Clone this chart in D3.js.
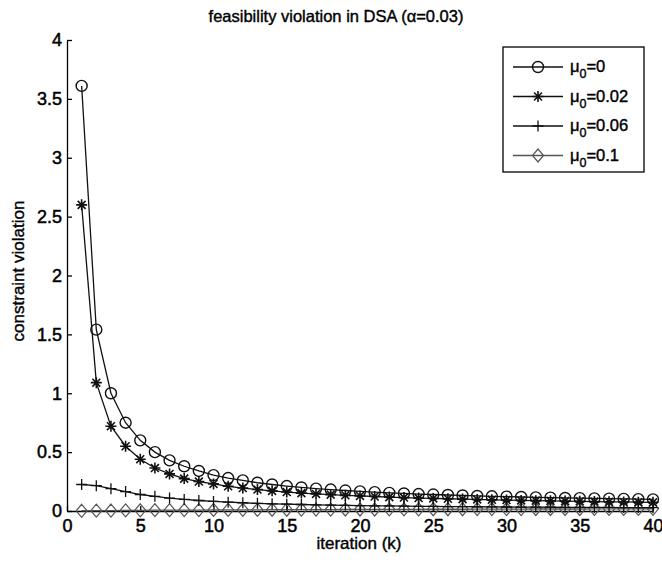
<!DOCTYPE html>
<html>
<head>
<meta charset="utf-8">
<script src="https://cdn.jsdelivr.net/npm/d3@7"></script>
<style>
  body { margin: 0; background: #fff; }
  svg { display: block; font-family: "Liberation Sans", Arial, sans-serif; }
</style>
</head>
<body>
<div id="chart"></div>
<script>
// iterations k = 1..40
const iterations = d3.range(1, 41);

const seriesMu0 = [3.61, 1.54, 1.0, 0.75, 0.6, 0.5, 0.43, 0.38, 0.34, 0.305,
    0.28, 0.26, 0.24, 0.225, 0.212, 0.2, 0.19, 0.182, 0.174, 0.167,
    0.16, 0.154, 0.149, 0.144, 0.14, 0.136, 0.132, 0.128, 0.125, 0.122,
    0.119, 0.116, 0.114, 0.111, 0.109, 0.107, 0.105, 0.103, 0.101, 0.099];
const seriesMu002 = [2.6, 1.09, 0.72, 0.55, 0.44, 0.365, 0.315, 0.275, 0.25, 0.23,
    0.21, 0.195, 0.182, 0.171, 0.161, 0.152, 0.145, 0.139, 0.133, 0.128,
    0.123, 0.118, 0.114, 0.11, 0.107, 0.104, 0.101, 0.098, 0.095, 0.093,
    0.09, 0.088, 0.086, 0.084, 0.082, 0.08, 0.078, 0.077, 0.075, 0.074];
const seriesMu006 = [0.225, 0.215, 0.19, 0.165, 0.14, 0.125, 0.11, 0.098, 0.089, 0.081,
    0.075, 0.07, 0.065, 0.061, 0.058, 0.055, 0.052, 0.05, 0.048, 0.046,
    0.044, 0.043, 0.041, 0.04, 0.039, 0.038, 0.037, 0.036, 0.035, 0.034,
    0.033, 0.033, 0.032, 0.031, 0.031, 0.03, 0.03, 0.029, 0.029, 0.028];
const seriesMu01 = [0.002, 0.003, 0.004, 0.005, 0.006, 0.007, 0.007, 0.008, 0.008, 0.009,
    0.009, 0.01, 0.01, 0.011, 0.011, 0.012, 0.012, 0.012, 0.013, 0.013,
    0.013, 0.014, 0.014, 0.014, 0.015, 0.015, 0.015, 0.016, 0.016, 0.016,
    0.016, 0.017, 0.017, 0.017, 0.017, 0.018, 0.018, 0.018, 0.018, 0.019];

const legendLabels = ["0", "0.02", "0.06", "0.1"];
const markerTypes = ["circle", "star", "plus", "diamond"];
const xTicks = d3.range(0, 41, 5);
const yTicks = d3.range(0, 4.01, 0.5);

const series = [seriesMu0, seriesMu002, seriesMu006, seriesMu01].map((vals, i) => ({
    label: legendLabels[i],
    marker: markerTypes[i],
    color: i === 3 ? "#555" : "#111",
    points: vals.map((v, j) => ({ k: iterations[j], v }))
}));

const W = 662, H = 564;
const margin = { top: 40, right: 9, bottom: 53, left: 67 };
const width = W - margin.left - margin.right;
const height = H - margin.top - margin.bottom;

const svg = d3.select("#chart").append("svg")
    .attr("width", W)
    .attr("height", H);

const g = svg.append("g")
    .attr("transform", `translate(${margin.left}, ${margin.top})`);

const x = d3.scaleLinear().domain([0, 40]).range([0, width]);
const y = d3.scaleLinear().domain([0, 4]).range([height, 0]);

// Axes (MATLAB style: ticks inside)
const yAxis = g.append("g")
    .call(d3.axisLeft(y).tickValues(yTicks).tickSizeInner(-5).tickSizeOuter(0)
        .tickPadding(5).tickFormat(d3.format("~g")));
const xAxis = g.append("g")
    .attr("transform", `translate(0, ${height})`)
    .call(d3.axisBottom(x).tickValues(xTicks).tickSizeInner(-5).tickSizeOuter(0)
        .tickPadding(8));

[xAxis, yAxis].forEach(ax => {
    ax.selectAll("path, line").attr("stroke", "#000").attr("stroke-width", 1.3);
    ax.selectAll("text")
        .attr("fill", "#000")
        .style("font-size", "18px")
        .style("stroke", "#000")
        .style("stroke-width", "0.5px");
});

// Labels
svg.append("text")
    .attr("x", 336)
    .attr("y", 22)
    .attr("text-anchor", "middle")
    .style("font-size", "16.5px")
    .style("stroke", "#000").style("stroke-width", "0.4px")
    .text("feasibility violation in DSA (α=0.03)");

svg.append("text")
    .attr("x", 359)
    .attr("y", 549)
    .attr("text-anchor", "middle")
    .style("font-size", "17px")
    .style("stroke", "#000").style("stroke-width", "0.4px")
    .text("iteration (k)");

svg.append("text")
    .attr("transform", "translate(24, 271) rotate(-90)")
    .attr("text-anchor", "middle")
    .style("font-size", "17px")
    .style("stroke", "#000").style("stroke-width", "0.4px")
    .text("constraint violation");

// Marker drawing
function drawMarker(sel, type, color) {
    const s = 5.5;
    if (type === "circle") {
        sel.append("circle").attr("r", s).attr("fill", "none")
            .attr("stroke", color).attr("stroke-width", 1.4);
    } else if (type === "diamond") {
        sel.append("path").attr("d", `M0,${-s - 1}L${s},0L0,${s + 1}L${-s},0Z`)
            .attr("fill", "none").attr("stroke", color).attr("stroke-width", 1.2);
    } else if (type === "plus") {
        sel.append("path").attr("d", `M${-s},0H${s}M0,${-s}V${s}`)
            .attr("stroke", color).attr("stroke-width", 1.3);
    } else if (type === "star") {
        const d = s * 0.72;
        sel.append("path")
            .attr("d", `M${-s},0H${s}M0,${-s}V${s}M${-d},${-d}L${d},${d}M${-d},${d}L${d},${-d}`)
            .attr("stroke", color).attr("stroke-width", 1.6);
    }
}

const line = d3.line().x(d => x(d.k)).y(d => y(d.v));

// draw from last to first so the circle series sits on top
series.slice().reverse().forEach(s => {
    const sg = g.append("g");
    sg.append("path")
        .datum(s.points)
        .attr("fill", "none")
        .attr("stroke", s.color)
        .attr("stroke-width", 1.3)
        .attr("d", line);
    sg.selectAll(".m")
        .data(s.points)
        .enter()
        .append("g")
        .attr("class", "m")
        .attr("transform", d => `translate(${x(d.k)}, ${y(d.v)})`)
        .each(function () { drawMarker(d3.select(this), s.marker, s.color); });
});

// Legend
const legend = svg.append("g").attr("transform", "translate(503, 47)");
legend.append("rect")
    .attr("width", 141)
    .attr("height", 125)
    .attr("fill", "#fff")
    .attr("stroke", "#000")
    .attr("stroke-width", 1.3);

series.forEach((s, i) => {
    const ly = 20 + i * 29.5;
    const row = legend.append("g").attr("transform", `translate(0, ${ly})`);
    row.append("line")
        .attr("x1", 10).attr("x2", 60)
        .attr("stroke", s.color).attr("stroke-width", 1.3);
    const mk = row.append("g").attr("transform", "translate(35, 0)");
    drawMarker(mk, s.marker, s.color);
    const t = row.append("text")
        .attr("x", 67)
        .attr("y", 5)
        .style("font-size", "16.5px")
        .style("stroke", "#000").style("stroke-width", "0.4px");
    t.append("tspan").text("μ");
    t.append("tspan").attr("dy", 6).style("font-size", "12.5px").text("0");
    t.append("tspan").attr("dy", -6).text("=" + s.label);
});
</script>
</body>
</html>
